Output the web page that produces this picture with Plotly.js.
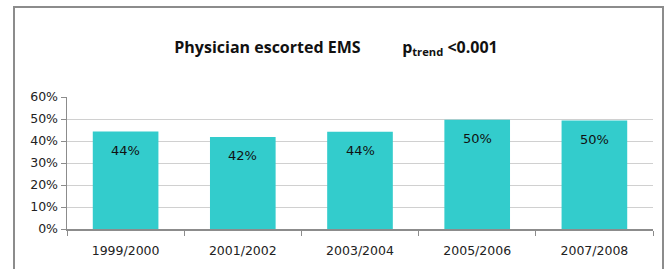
<!DOCTYPE html>
<html>
<head>
<meta charset="utf-8">
<script src="https://cdn.plot.ly/plotly-3.0.1.min.js"></script>
<style>
html,body{margin:0;padding:0;background:#fff;}
#wrap{position:relative;width:668px;height:269px;}
#chart{position:absolute;left:0;top:0;width:668px;height:269px;}
#frame{position:absolute;left:13px;top:6px;width:651px;height:300px;border:2px solid #8c8c8c;pointer-events:none;box-sizing:border-box;}
</style>
</head>
<body>
<div id="wrap"><div id="chart"></div><div id="frame"></div></div>
<script>
const categories = ["1999/2000", "2001/2002", "2003/2004", "2005/2006", "2007/2008"];
const shares = [0.443, 0.418, 0.442, 0.497, 0.493];
const labels = ["44%", "42%", "44%", "50%", "50%"];
const yTicks = [0, 0.1, 0.2, 0.3, 0.4, 0.5, 0.6];
const yTickLabels = ["0%", "10%", "20%", "30%", "40%", "50%", "60%"];

const trace = {
  type: "bar",
  x: categories,
  y: shares,
  marker: {color: "#33CCCC"},
  hoverinfo: "none"
};

const annotations = categories.map((c, i) => ({
  x: c, y: shares[i], xref: "x", yref: "y",
  text: labels[i], showarrow: false,
  yanchor: "top", yshift: -9,
  font: {family: "DejaVu Sans, Verdana, sans-serif", size: 13, color: "#111"}
}));

const layout = {
  width: 668, height: 269,
  margin: {l: 67, r: 15, t: 97, b: 40},
  paper_bgcolor: "#fff", plot_bgcolor: "#fff",
  showlegend: false,
  bargap: 0.44,
  title: {
    text: "<b>Physician escorted EMS&nbsp;&nbsp;&nbsp;&nbsp;&nbsp;&nbsp;&nbsp;&nbsp;&nbsp;&nbsp;p<sub>trend</sub> &lt;0.001</b>",
    x: 0.503, xref: "container", xanchor: "center",
    y: 0.825, yref: "container", yanchor: "middle",
    font: {family: "Open Sans, Lato, sans-serif", size: 16, color: "#111"}
  },
  xaxis: {
    type: "category",
    showline: true, linecolor: "#8c8c8c", linewidth: 1.5,
    ticks: "outside", tickson: "boundaries", ticklen: 5, tickcolor: "#8c8c8c",
    ticklabelstandoff: 9,
    showgrid: false,
    tickfont: {family: "DejaVu Sans, Verdana, sans-serif", size: 12.5, color: "#222"}
  },
  yaxis: {
    range: [0, 0.6],
    tickvals: yTicks, ticktext: yTickLabels,
    showline: true, linecolor: "#8c8c8c", linewidth: 1.5,
    ticks: "outside", ticklen: 5, tickcolor: "#8c8c8c",
    showgrid: true, gridcolor: "#d0d0d0", gridwidth: 1,
    zeroline: false,
    tickfont: {family: "DejaVu Sans, Verdana, sans-serif", size: 12.5, color: "#222"}
  },
  annotations: annotations
};

Plotly.newPlot("chart", [trace], layout, {displayModeBar: false, staticPlot: true});
</script>
</body>
</html>
